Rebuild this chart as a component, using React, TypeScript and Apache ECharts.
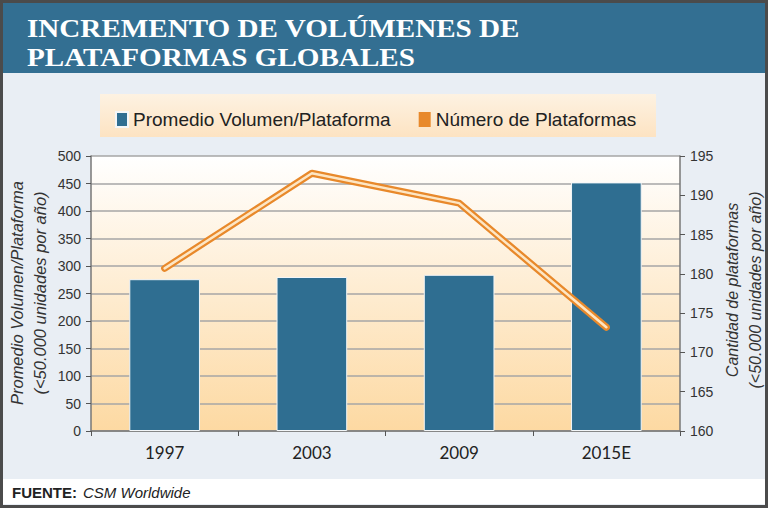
import React, { useEffect, useRef } from "react";
import * as echarts from "echarts";

const categories = ["1997", "2003", "2009", "2015E"];
const avgVolume = [276, 280, 284, 452];
const platforms = [180.7, 192.8, 189.0, 173.2];
const seriesNames = ["Promedio Volumen/Plataforma", "Número de Plataformas"];
const titleLines = ["INCREMENTO DE VOLÚMENES DE", "PLATAFORMAS GLOBALES"];
const leftAxisName = ["Promedio Volumen/Plataforma", "(<50.000 unidades por año)"];
const rightAxisName = ["Cantidad de plataformas", "(<50.000 unidades por año)"];

export default function App() {
  const ref = useRef<HTMLDivElement>(null);
  useEffect(() => {
    if (!ref.current) return;
    const chart = echarts.init(ref.current, null, { renderer: "svg" });
    const sans = "Liberation Sans, Arial, sans-serif";
    const titleFont = "bold 26px 'Liberation Serif', serif";
    const option = {
      animation: false,
      backgroundColor: "#e9eef4",
      graphic: [
        { type: "rect", z: -5, shape: { x: 3, y: 3, width: 762, height: 70 }, style: { fill: "#336f92" } },
        { type: "rect", z: -5, shape: { x: 3, y: 479, width: 762, height: 25 }, style: { fill: "#ffffff" } },
        {
          type: "rect", z: -5, shape: { x: 100, y: 94, width: 556, height: 43 },
          style: { fill: new echarts.graphic.LinearGradient(0, 0, 0, 1, [{ offset: 0, color: "#fdf2e2" }, { offset: 1, color: "#fde3c2" }]) },
        },
        { type: "rect", z: 50, shape: { x: 1.5, y: 1.5, width: 765, height: 505 }, style: { fill: "none", stroke: "#4b4b4b", lineWidth: 3 } },
        { type: "text", z: 10, x: 27, y: 28, scaleX: 1.12, style: { text: titleLines[0], fill: "#ffffff", font: titleFont, textVerticalAlign: "middle" } },
        { type: "text", z: 10, x: 27, y: 57, scaleX: 1.12, style: { text: titleLines[1], fill: "#ffffff", font: titleFont, textVerticalAlign: "middle" } },
        {
          type: "text", z: 10, x: 28, y: 293, rotation: Math.PI / 2,
          style: { text: leftAxisName.join("\n"), fill: "#333", font: "italic 16.5px " + sans, textAlign: "center", textVerticalAlign: "middle", lineHeight: 23 },
        },
        {
          type: "text", z: 10, x: 744, y: 290, rotation: Math.PI / 2,
          style: { text: rightAxisName.join("\n"), fill: "#333", font: "italic 16px " + sans, textAlign: "center", textVerticalAlign: "middle", lineHeight: 23 },
        },
        { type: "text", z: 10, x: 12, y: 492, style: { text: "FUENTE:", fill: "#222", font: "bold 15px " + sans, textVerticalAlign: "middle" } },
        { type: "text", z: 10, x: 83, y: 492, style: { text: "CSM Worldwide", fill: "#222", font: "italic 15px " + sans, textVerticalAlign: "middle" } },
      ],
      legend: {
        data: [
          { name: seriesNames[0], icon: "rect" },
          { name: seriesNames[1], icon: "rect" },
        ],
        left: 110,
        top: 105,
        itemWidth: 12,
        itemHeight: 15,
        itemGap: 28,
        textStyle: { fontFamily: sans, fontSize: 19, color: "#222" },
      },
      grid: {
        left: 91,
        right: 88,
        top: 156,
        bottom: 77,
        show: true,
        borderWidth: 0,
        backgroundColor: new echarts.graphic.LinearGradient(0, 0, 0, 1, [
          { offset: 0, color: "#ffffff" },
          { offset: 1, color: "#fdd9a2" },
        ]),
      },
      xAxis: {
        type: "category",
        data: categories,
        axisLine: { lineStyle: { color: "#777", width: 1.5 } },
        axisTick: { show: true, length: 5, lineStyle: { color: "#555" } },
        axisLabel: { fontFamily: "Lato, sans-serif", fontSize: 17, color: "#222", margin: 13 },
      },
      yAxis: [
        {
          type: "value",
          min: 0,
          max: 500,
          interval: 50,
          axisLine: { show: true, lineStyle: { color: "#777", width: 1.5 } },
          axisTick: { show: true, length: 5, lineStyle: { color: "#555" } },
          axisLabel: { fontFamily: sans, fontSize: 14, color: "#333", margin: 10 },
          splitLine: { lineStyle: { color: "#a6a6a6", width: 1.5 } },
        },
        {
          type: "value",
          min: 160,
          max: 195,
          interval: 5,
          position: "right",
          axisLine: { show: true, lineStyle: { color: "#777", width: 1.5 } },
          axisTick: { show: true, length: 5, lineStyle: { color: "#555" } },
          axisLabel: { fontFamily: sans, fontSize: 14, color: "#333", margin: 10 },
          splitLine: { show: false },
        },
      ],
      series: [
        {
          name: seriesNames[0],
          type: "bar",
          data: avgVolume,
          barWidth: "48%",
          itemStyle: { color: "#2f6e91", borderColor: "#f3f6f8", borderWidth: 1 },
        },
        {
          name: seriesNames[1],
          type: "line",
          yAxisIndex: 1,
          data: platforms,
          symbol: "none",
          color: "#e8892b",
          lineStyle: { color: "#e8892b", width: 7, join: "round", cap: "round" },
          z: 3,
        },
        {
          name: "inner",
          type: "line",
          yAxisIndex: 1,
          data: platforms,
          symbol: "none",
          lineStyle: { color: "#fde6c4", width: 2.5, join: "round", cap: "round" },
          z: 4,
          silent: true,
        },
      ],
    };
    chart.setOption(option as any);
    return () => chart.dispose();
  }, []);
  return <div ref={ref} style={{ position: "fixed", left: 0, top: 0, width: 768, height: 508 }} />;
}
